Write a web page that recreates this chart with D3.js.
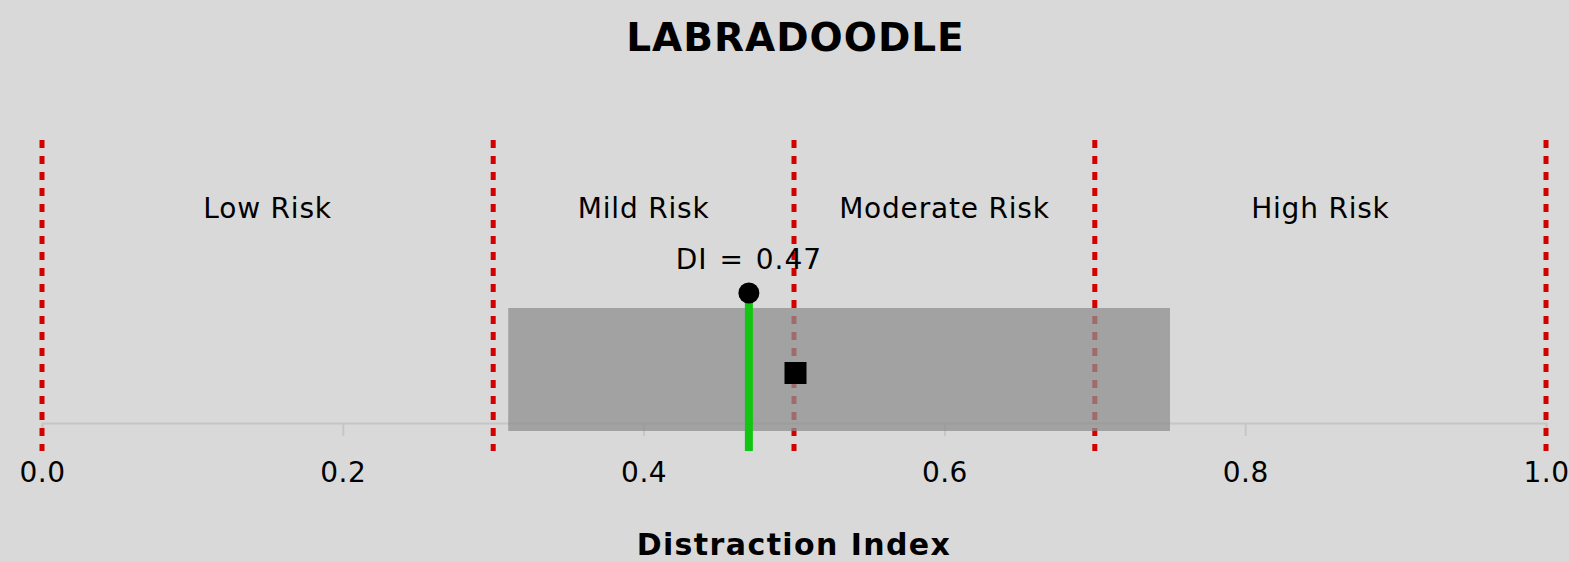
<!DOCTYPE html>
<html><head><meta charset="utf-8">
<script src="https://cdn.jsdelivr.net/npm/d3@7"></script>
<style>
html,body{margin:0;padding:0;background:#d9d9d9;}
svg{display:block;font-family:"DejaVu Sans",Verdana,sans-serif;}
</style></head>
<body>
<script>
const title = "LABRADOODLE";
const xLabel = "Distraction Index";
const thresholds = [0.0, 0.3, 0.5, 0.7, 1.0];
const zoneNames = ["Low Risk", "Mild Risk", "Moderate Risk", "High Risk"];
const tickValues = [0.0, 0.2, 0.4, 0.6, 0.8, 1.0];
const rangeLow = 0.31, rangeHigh = 0.75;
const diValue = 0.47;
const breedMean = 0.501;

const W = 1569, H = 562;
const svg = d3.select("body").append("svg").attr("width", W).attr("height", H);
svg.append("rect").attr("width", W).attr("height", H).attr("fill", "#d9d9d9");

const x = d3.scaleLinear().domain([0, 1]).range([42, 1546]);

// axis
const axis = d3.axisBottom(x).tickValues(tickValues).tickFormat(d3.format(".1f")).tickSize(13).tickPadding(26);
const ag = svg.append("g").attr("transform", "translate(0,423)").call(axis);
ag.select(".domain").attr("stroke", "#c6c6c6").attr("stroke-width", 2);
ag.selectAll(".tick line").attr("stroke", "#c6c6c6").attr("stroke-width", 2);
ag.selectAll(".tick text").attr("fill", "#000").style("font-size", "28px")
  .style("font-family", "DejaVu Sans, sans-serif").style("letter-spacing", "0.5px");

// threshold lines
svg.selectAll(".thr").data(thresholds).enter().append("line")
  .attr("x1", d => x(d)).attr("x2", d => x(d))
  .attr("y1", 140).attr("y2", 451)
  .attr("stroke", "#d40000").attr("stroke-width", 5).attr("stroke-dasharray", "8,8");

// range rectangle
svg.append("rect")
  .attr("x", x(rangeLow)).attr("width", x(rangeHigh) - x(rangeLow))
  .attr("y", 308).attr("height", 123)
  .attr("fill", "#8f8f8f").attr("fill-opacity", 0.75);

// zone labels
svg.selectAll(".zone").data(zoneNames).enter().append("text")
  .attr("x", (d, i) => x((thresholds[i] + thresholds[i + 1]) / 2))
  .attr("y", 218).attr("text-anchor", "middle")
  .style("font-size", "28px").style("letter-spacing", "0.8px").attr("fill", "#000").text(d => d);

// DI line + marker
svg.append("line").attr("x1", x(diValue)).attr("x2", x(diValue))
  .attr("y1", 293).attr("y2", 451).attr("stroke", "#12c512").attr("stroke-width", 8);
svg.append("circle").attr("cx", x(diValue)).attr("cy", 293).attr("r", 10.5).attr("fill", "#000");
svg.append("text").attr("x", x(diValue)).attr("y", 269).attr("text-anchor", "middle")
  .style("font-size", "28px").style("letter-spacing", "1px").style("word-spacing", "2px")
  .attr("fill", "#000").text("DI = " + diValue.toFixed(2));

// mean square
svg.append("rect").attr("x", x(breedMean) - 11).attr("y", 362).attr("width", 22).attr("height", 22).attr("fill", "#000");

// title and x label
svg.append("text").attr("x", W / 2 + 11).attr("y", 51).attr("text-anchor", "middle")
  .style("font-size", "39px").style("letter-spacing", "1px").style("font-weight", "bold")
  .attr("fill", "#000").text(title);
svg.append("text").attr("x", x(0.5)).attr("y", 555).attr("text-anchor", "middle")
  .style("font-size", "30px").style("letter-spacing", "1.4px").style("font-weight", "bold")
  .attr("fill", "#000").text(xLabel);
</script>
</body></html>
